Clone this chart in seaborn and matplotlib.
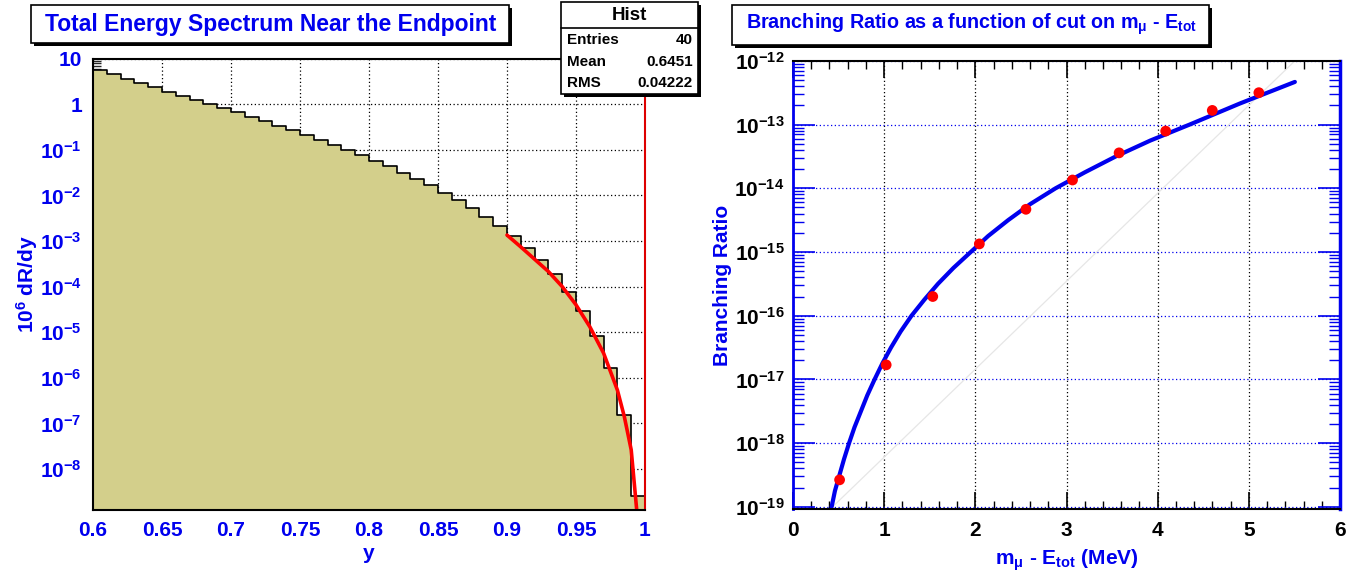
import numpy as np
import pandas as pd
import matplotlib
matplotlib.use("Agg")
import matplotlib.pyplot as plt
import seaborn as sns
from matplotlib.patches import Rectangle
from matplotlib.ticker import FixedLocator, FixedFormatter, LogLocator, NullFormatter, MultipleLocator

# ---------------- data ----------------
bin_lo, bin_hi, bin_w = 0.60, 1.00, 0.01
bin_values = [5.6, 4.5, 3.57, 2.87, 2.34, 1.88, 1.51, 1.24, 1.01, 0.826,
              0.664, 0.532, 0.422, 0.333, 0.272, 0.208, 0.166, 0.127, 0.099, 0.077,
              0.058, 0.044, 0.0315, 0.0229, 0.0166, 0.0115, 0.0079, 0.0052, 0.0034, 0.00213,
              0.00129, 7.1e-4, 3.8e-4, 1.86e-4, 7.8e-5, 2.9e-5, 8.4e-6, 1.6e-6, 1.5e-7, 2.5e-9]
fit_x = [0.900, 0.910, 0.920, 0.930, 0.940, 0.950, 0.960, 0.970, 0.980, 0.985, 0.990, 0.994]
fit_logy = [-2.87, -3.13, -3.40, -3.67, -4.00, -4.40, -4.88, -5.46, -6.27, -6.85, -7.58, -8.90]

left_xticks = [0.6, 0.65, 0.7, 0.75, 0.8, 0.85, 0.9, 0.95, 1.0]
left_xticklabels = ["0.6", "0.65", "0.7", "0.75", "0.8", "0.85", "0.9", "0.95", "1"]
left_yticks = [10, 1, 1e-1, 1e-2, 1e-3, 1e-4, 1e-5, 1e-6, 1e-7, 1e-8]
left_yticklabels = ["10", "1"] + [r"$10^{-%d}$" % k for k in range(1, 9)]

stats_names = ["Entries", "Mean", "RMS"]
stats_values = ["40", "0.6451", "0.04222"]

cut_x = [0.511, 1.022, 1.533, 2.044, 2.555, 3.066, 3.577, 4.088, 4.599, 5.110]
br_points = [2.65e-19, 1.69e-17, 2.0e-16, 1.34e-15, 4.68e-15, 1.35e-14, 3.6e-14, 7.9e-14, 1.67e-13, 3.17e-13]
curve_x = [0.424, 0.46, 0.51, 0.56, 0.615, 0.675, 0.745, 0.815, 0.895, 0.98,
           1.075, 1.18, 1.30, 1.44, 1.59, 1.76, 1.95, 2.14, 2.36, 2.60,
           2.88, 3.20, 3.54, 3.92, 4.35, 4.90, 5.505]
curve_logy = [-19.0, -18.75, -18.5, -18.25, -18.0, -17.75, -17.5, -17.25, -17.0, -16.75,
              -16.5, -16.25, -16.0, -15.75, -15.5, -15.25, -15.0, -14.75, -14.5, -14.25,
              -14.0, -13.75, -13.5, -13.25, -13.0, -12.67, -12.33]
diag_x = [0.435, 5.505]
diag_y = [1e-19, 1e-12]
right_xticks = [0, 1, 2, 3, 4, 5, 6]
right_yticks = [1e-12, 1e-13, 1e-14, 1e-15, 1e-16, 1e-17, 1e-18, 1e-19]
right_yticklabels = [r"$10^{-%d}$" % k for k in range(12, 20)]

# ---------------- style ----------------
sns.set_theme(style="white")
plt.rcParams["font.family"] = ["Liberation Sans", "DejaVu Sans"]
plt.rcParams["font.weight"] = "bold"
plt.rcParams["mathtext.fontset"] = "custom"
plt.rcParams["mathtext.rm"] = "Liberation Sans:bold"
plt.rcParams["mathtext.bf"] = "Liberation Sans:bold"
plt.rcParams["mathtext.it"] = "Liberation Sans:bold"
plt.rcParams["mathtext.sf"] = "Liberation Sans:bold"

W, H = 1369, 575
fig = plt.figure(figsize=(W / 100, H / 100), dpi=100)
fig.patch.set_facecolor("white")

def fx(px):
    return px / W

def fy(py):
    return 1 - py / H

BLUE = "#0000ee"
KHAKI = "#d3cf8b"
TICKFS = 15

# ---------------- left panel ----------------
axL = fig.add_axes([fx(93), fy(510), fx(645) - fx(93), fy(58.6) - fy(510)])
axL.set_facecolor("white")
n_bins = len(bin_values)
centers = [bin_lo + bin_w * (i + 0.5) for i in range(n_bins)]
hist_df = pd.DataFrame({"y": centers, "w": bin_values})
sns.histplot(data=hist_df, x="y", weights="w", binwidth=bin_w, binrange=(bin_lo, bin_hi),
             element="step", fill=True, color=KHAKI, alpha=1.0, ax=axL, legend=False)
for c in axL.collections:
    c.set_facecolor(KHAKI)
    c.set_alpha(1.0)
    c.set_edgecolor("black")
    c.set_linewidth(1.2)
fit_df = pd.DataFrame({"x": fit_x, "y": np.power(10.0, fit_logy)})
sns.lineplot(data=fit_df, x="x", y="y", color="red", linewidth=2.6, ax=axL, sort=False)
axL.set_yscale("log")
axL.set_xlim(0.6, 1.0)
axL.set_ylim(1.26e-9, 10)
axL.set_axisbelow(True)
axL.xaxis.set_major_locator(FixedLocator(left_xticks))
axL.xaxis.set_major_formatter(FixedFormatter(left_xticklabels))
axL.xaxis.set_minor_locator(MultipleLocator(0.01))
axL.yaxis.set_major_locator(FixedLocator(left_yticks))
axL.yaxis.set_major_formatter(FixedFormatter(left_yticklabels))
axL.yaxis.set_minor_locator(LogLocator(base=10, subs=np.arange(2, 10), numticks=30))
axL.yaxis.set_minor_formatter(NullFormatter())
axL.grid(True, which="major", color="black", linestyle=(0, (1, 2)), linewidth=0.9)
axL.tick_params(axis="both", which="major", direction="in", length=12, width=1.2,
                colors="black", labelcolor=BLUE, labelsize=TICKFS, pad=8,
                bottom=True, left=True, top=False, right=False)
axL.tick_params(axis="both", which="minor", direction="in", length=6, width=1,
                bottom=True, left=True, top=False, right=False)
for s in ["left", "bottom", "top"]:
    axL.spines[s].set_color("black")
    axL.spines[s].set_linewidth(1.5)
axL.spines["right"].set_color("#dd0000")
axL.spines["right"].set_linewidth(1.5)
axL.set_xlabel("y", color=BLUE, fontsize=TICKFS, fontweight="bold", labelpad=3)
axL.set_ylabel(r"10$^{6}$ dR/dy", color=BLUE, fontsize=TICKFS, fontweight="bold", labelpad=0)

# ---------------- right panel ----------------
axR = fig.add_axes([fx(793), fy(509.4), fx(1340) - fx(793), fy(60.9) - fy(509.4)])
axR.set_facecolor("white")
diag_df = pd.DataFrame({"x": diag_x, "y": diag_y})
sns.lineplot(data=diag_df, x="x", y="y", color="#e6e6e6", linewidth=0.9, ax=axR)
curve_df = pd.DataFrame({"x": curve_x, "y": np.power(10.0, curve_logy)})
sns.lineplot(data=curve_df, x="x", y="y", color="#0000ee", linewidth=3.0, ax=axR, sort=False)
pts_df = pd.DataFrame({"x": cut_x, "y": br_points})
sns.scatterplot(data=pts_df, x="x", y="y", color="#ff0000", s=60, edgecolor="none", ax=axR, zorder=5)
axR.set_yscale("log")
axR.set_xlim(0, 6)
axR.set_ylim(9.1e-20, 1e-12)
axR.set_axisbelow(True)
axR.axhline(9.3e-20, color="#ff4444", linewidth=1.0)
axR.xaxis.set_major_locator(FixedLocator(right_xticks))
axR.xaxis.set_major_formatter(FixedFormatter([str(v) for v in right_xticks]))
axR.xaxis.set_minor_locator(MultipleLocator(0.2))
axR.yaxis.set_major_locator(FixedLocator(right_yticks))
axR.yaxis.set_major_formatter(FixedFormatter(right_yticklabels))
axR.yaxis.set_minor_locator(LogLocator(base=10, subs=np.arange(2, 10), numticks=30))
axR.yaxis.set_minor_formatter(NullFormatter())
axR.xaxis.grid(True, which="major", color="black", linestyle=(0, (1, 2)), linewidth=0.9)
axR.yaxis.grid(True, which="major", color=BLUE, linestyle=(0, (1, 2)), linewidth=0.9)
axR.tick_params(axis="x", which="major", direction="in", length=12, width=1.2,
                colors="black", labelcolor="black", labelsize=TICKFS, pad=8,
                bottom=True, top=True)
axR.tick_params(axis="x", which="minor", direction="in", length=6, width=1,
                colors="black", bottom=True, top=True)
axR.tick_params(axis="y", which="major", direction="in", length=16, width=1.2,
                colors=BLUE, labelcolor="black", labelsize=TICKFS, pad=6,
                left=True, right=True)
axR.tick_params(axis="y", which="minor", direction="in", length=8, width=1,
                colors=BLUE, left=True, right=True)
axR.spines["left"].set_color(BLUE)
axR.spines["left"].set_linewidth(2)
axR.spines["right"].set_color(BLUE)
axR.spines["right"].set_linewidth(2.5)
axR.spines["top"].set_color("black")
axR.spines["top"].set_linewidth(1.5)
axR.spines["bottom"].set_color("black")
axR.spines["bottom"].set_linewidth(1.5)
axR.set_xlabel(r"m$_{\mu}$ - E$_{tot}$ (MeV)", color=BLUE, fontsize=TICKFS,
               fontweight="bold", labelpad=6)
axR.set_ylabel("Branching Ratio", color=BLUE, fontsize=TICKFS, fontweight="bold", labelpad=2)

# ---------------- boxes ----------------
def shadow_box(x0, y0, x1, y1, off=3):
    fig.add_artist(Rectangle((fx(x0 + off), fy(y1 + off)), fx(x1) - fx(x0), fy(y0) - fy(y1),
                             transform=fig.transFigure, facecolor="black", edgecolor="none", zorder=10))
    fig.add_artist(Rectangle((fx(x0), fy(y1)), fx(x1) - fx(x0), fy(y0) - fy(y1),
                             transform=fig.transFigure, facecolor="white", edgecolor="black",
                             linewidth=1.2, zorder=11))

shadow_box(31, 5, 509, 43)
fig.text(fx(271), fy(24), "Total Energy Spectrum Near the Endpoint", color=BLUE,
         fontsize=16.5, fontweight="bold", ha="center", va="center", zorder=12)

shadow_box(732, 5, 1209, 45)
fig.text(fx(972), fy(24), r"Branching Ratio as a function of cut on m$_{\mu}$ - E$_{tot}$",
         color=BLUE, fontsize=14.2, fontweight="bold", ha="center", va="center", zorder=12)

shadow_box(561, 2, 698, 94, off=3)
fig.add_artist(plt.Line2D([fx(561), fx(698)], [fy(28), fy(28)], transform=fig.transFigure,
                          color="black", linewidth=1.2, zorder=12))
fig.text(fx(629.5), fy(16), "Hist", color="black", fontsize=13.5, fontweight="bold",
         ha="center", va="center", zorder=12)
for i, (nm, vl) in enumerate(zip(stats_names, stats_values)):
    yy = 40 + i * 21.5
    fig.text(fx(567), fy(yy), nm, color="black", fontsize=11, fontweight="bold",
             ha="left", va="center", zorder=12)
    fig.text(fx(693), fy(yy), vl, color="black", fontsize=11, fontweight="bold",
             ha="right", va="center", zorder=12)

fig.savefig("out.png", dpi=100, facecolor="white")
